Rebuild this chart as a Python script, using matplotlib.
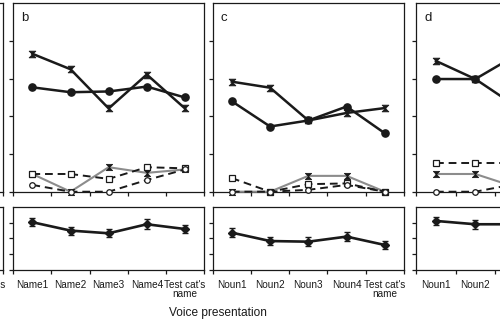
import matplotlib
matplotlib.use("Agg")
import matplotlib.pyplot as plt
from matplotlib.path import Path
import numpy as np

plt.rcParams['font.family'] = ['Liberation Sans', 'DejaVu Sans']

# ---------------- data ----------------
labels_names = ["Name1", "Name2", "Name3", "Name4", "Test cat's\nname"]
labels_nouns = ["Noun1", "Noun2", "Noun3", "Noun4", "Test cat's\nname"]
# only the parts of the outer panels that fall inside the picture are labelled
labels_a = ["", "", "", "", "Test cat's\nname"]
labels_d = ["Noun1", "Noun2", "", "", ""]

# panel b (top)
b_bowtie = [3.66, 3.25, 2.21, 3.11, 2.21]
b_circle = [2.77, 2.64, 2.66, 2.79, 2.50]
b_dash_sq = [0.47, 0.47, 0.34, 0.65, 0.62]
b_dash_ci = [0.18, 0.0, 0.0, 0.31, 0.59]
b_gray = [0.47, 0.0, 0.65, 0.50, 0.59]
# panel b (bottom)
b_low = [3.02, 2.49, 2.32, 2.89, 2.59]
b_low_err = [0.27, 0.25, 0.25, 0.33, 0.28]

# panel c (top)
c_bowtie = [2.92, 2.76, 1.89, 2.09, 2.22]
c_circle = [2.40, 1.73, 1.89, 2.26, 1.55]
c_dash_sq = [0.36, 0.0, 0.20, 0.22, 0.0]
c_dash_ci = [0.0, 0.0, 0.05, 0.18, 0.0]
c_gray = [0.0, 0.0, 0.42, 0.42, 0.0]
# panel c (bottom)
c_low = [2.36, 1.83, 1.79, 2.11, 1.58]
c_low_err = [0.28, 0.27, 0.30, 0.30, 0.25]

# panel d (top) - only first points visible
d_bowtie = [3.47, 2.99, 3.60]
d_circle = [2.99, 2.99, 2.29]
d_dash_sq = [0.75, 0.75, 0.75]
d_dash_ci = [0.0, 0.0, 0.20]
d_gray = [0.47, 0.47, 0.13]
# panel d (bottom)
d_low = [3.10, 2.89, 2.89]
d_low_err = [0.27, 0.27, 0.27]

# ---------------- figure ----------------
W, H = 500, 319
fig = plt.figure(figsize=(W / 100, H / 100), dpi=100)

def axes_px(l, r, t, b):
    return fig.add_axes([l / W, 1 - b / H, (r - l) / W, (b - t) / H])

hourglass = Path([(-1, 1), (1, 1), (-1, -1), (1, -1), (-1, 1)],
                 [Path.MOVETO, Path.LINETO, Path.LINETO, Path.LINETO, Path.CLOSEPOLY])

BLK = '#1a1a1a'
GRY = '#8c8c8c'

cols = [(-187.4, 3.3), (13.3, 204.0), (212.7, 404.0), (416.3, 613.0)]
TOP = (3.3, 191.7)
BOT = (206.7, 270.0)

def style(ax, ymax, yticks, xlabels, show_labels):
    ax.set_xlim(-0.5, 4.5)
    ax.set_ylim(0, ymax)
    ax.set_yticks(yticks)
    ax.set_yticklabels([])
    ax.set_xticks(np.arange(-0.5, 5.0, 1.0))
    ax.set_xticklabels([])
    ax.tick_params(axis='both', which='major', direction='out', length=3,
                   width=0.9, color=BLK)
    for s in ax.spines.values():
        s.set_linewidth(0.9)
        s.set_color(BLK)
    if show_labels:
        ax.set_xticks(np.arange(5), minor=True)
        ax.set_xticklabels(xlabels, minor=True, fontsize=7.2, linespacing=0.85)
        ax.tick_params(axis='x', which='minor', length=0, pad=7, colors=BLK)
    else:
        ax.set_xticks([], minor=True)

def draw_top(ax, bow, cir, dsq, dci, gry):
    x = np.arange(len(bow))
    ax.plot(x, gry, color=GRY, lw=1.5, marker=hourglass, ms=4.5, mfc=BLK, mec=BLK,
            mew=0.6, zorder=3, clip_on=False)
    ax.plot(x, dsq, color=BLK, lw=1.4, ls=(0, (4, 2.5)), marker='s', ms=4.2,
            mfc='white', mec=BLK, mew=0.9, zorder=4, clip_on=False)
    ax.plot(x, dci, color=BLK, lw=1.4, ls=(0, (4, 2.5)), marker='o', ms=4.0,
            mfc='white', mec=BLK, mew=0.9, zorder=4, clip_on=False)
    ax.plot(x, cir, color=BLK, lw=1.8, marker='o', ms=5.2, mfc=BLK, mec=BLK, zorder=5)
    ax.plot(x, bow, color=BLK, lw=1.8, marker=hourglass, ms=4.8, mfc=BLK, mec=BLK,
            mew=0.6, zorder=5)

def draw_bot(ax, vals, err):
    x = np.arange(len(vals))
    ax.errorbar(x, vals, yerr=err, color=BLK, lw=1.9, marker='D', ms=4,
                elinewidth=1.0, capsize=2.2, capthick=1.0, zorder=5)

# panel a (only its right edge is visible)
ax_a_t = axes_px(cols[0][0], cols[0][1], *TOP)
style(ax_a_t, 5, [0, 1, 2, 3, 4], labels_a, False)
ax_a_b = axes_px(cols[0][0], cols[0][1], *BOT)
style(ax_a_b, 4, [0, 1, 2, 3], labels_a, True)

# panel b
ax_b_t = axes_px(cols[1][0], cols[1][1], *TOP)
style(ax_b_t, 5, [0, 1, 2, 3, 4], labels_names, False)
draw_top(ax_b_t, b_bowtie, b_circle, b_dash_sq, b_dash_ci, b_gray)
ax_b_b = axes_px(cols[1][0], cols[1][1], *BOT)
style(ax_b_b, 4, [0, 1, 2, 3], labels_names, True)
draw_bot(ax_b_b, b_low, b_low_err)

# panel c
ax_c_t = axes_px(cols[2][0], cols[2][1], *TOP)
style(ax_c_t, 5, [0, 1, 2, 3, 4], labels_nouns, False)
draw_top(ax_c_t, c_bowtie, c_circle, c_dash_sq, c_dash_ci, c_gray)
ax_c_b = axes_px(cols[2][0], cols[2][1], *BOT)
style(ax_c_b, 4, [0, 1, 2, 3], labels_nouns, True)
draw_bot(ax_c_b, c_low, c_low_err)

# panel d
ax_d_t = axes_px(cols[3][0], cols[3][1], *TOP)
style(ax_d_t, 5, [0, 1, 2, 3, 4], labels_d, False)
draw_top(ax_d_t, d_bowtie, d_circle, d_dash_sq, d_dash_ci, d_gray)
ax_d_b = axes_px(cols[3][0], cols[3][1], *BOT)
style(ax_d_b, 4, [0, 1, 2, 3], labels_d, True)
draw_bot(ax_d_b, d_low, d_low_err)

for ax, letter in [(ax_b_t, 'b'), (ax_c_t, 'c'), (ax_d_t, 'd')]:
    ax.text(0.04, 0.955, letter, transform=ax.transAxes, fontsize=9.5,
            va='top', ha='left', color=BLK)

fig.text(217.5 / W, 1 - 313 / H, "Voice presentation", fontsize=8.6,
         ha='center', va='center', color=BLK)

fig.savefig("out.png", dpi=100)
